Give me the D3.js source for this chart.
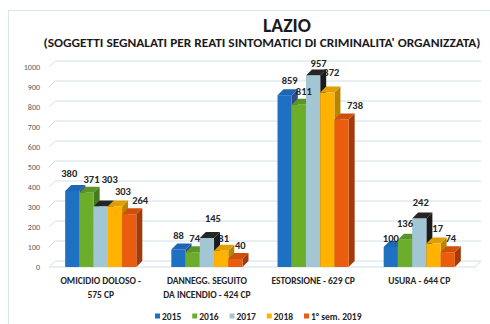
<!DOCTYPE html>
<html>
<head>
<meta charset="utf-8">
<script src="https://cdn.jsdelivr.net/npm/d3@7"></script>
<style>
  html, body { margin: 0; padding: 0; background: #fff; }
  svg { display: block; font-family: Carlito, Lato, "Open Sans", sans-serif; }
</style>
</head>
<body>
<svg id="chart" width="490" height="324"></svg>
<script>
// Categories (crime types), each split into its printed lines
const categories = [
  ["OMICIDIO DOLOSO -", "575 CP"],
  ["DANNEGG. SEGUITO", "DA INCENDIO - 424 CP"],
  ["ESTORSIONE - 629 CP"],
  ["USURA - 644 CP"]
];
const seriesNames = ["2015", "2016", "2017", "2018", "1° sem. 2019"];

// Reported persons per period
const v2015 = [380, 88, 859, 100];
const v2016 = [371, 74, 811, 136];
const v2017 = [303, 145, 957, 242];
const v2018 = [303, 81, 872, 117];
const v2019 = [264, 40, 738, 74];

const yTicks = [0, 100, 200, 300, 400, 500, 600, 700, 800, 900, 1000];

const seriesValues = [v2015, v2016, v2017, v2018, v2019];

// Face colours per series: front, top, side
const faceColors = [
  { front: "#1f6fc2", top: "#1d66b6", side: "#34488a" },
  { front: "#6cae2c", top: "#5a9626", side: "#477a1c" },
  { front: "#a3c6d4", top: "#252525", side: "#1b1b1b" },
  { front: "#ffb300", top: "#e09e00", side: "#b98400" },
  { front: "#ea5c0e", top: "#cf4f0d", side: "#a23a0c" }
];

// Hand placement of the value labels (offset from the bar's front top centre)
const labelDx = [
  [-3, 0, 5, 0],
  [5, 2, 5, 0],
  [9, 6, 5.5, 1.5],
  [8, 2.5, 4, 1.5],
  [11, 5, 13.5, 3]
];
const labelDy = [
  [-14, -10.5, -11, -5.5],
  [-9.5, -10.5, -10, -13],
  [-23.5, -16.5, -9, -12.5],
  [-11, -9, -16.5, -12],
  [-10, -10, -10, -10]
];

const svg = d3.select("#chart");
const depth = 6;

// Chart area frame
svg.append("rect")
  .attr("x", 8.5).attr("y", 10.5)
  .attr("width", 600).attr("height", 400)
  .attr("fill", "none").attr("stroke", "#d5e6ec").attr("stroke-width", 1);

// Title
svg.append("text")
  .attr("x", 287).attr("y", 32)
  .attr("text-anchor", "middle")
  .attr("font-size", 19.5).attr("font-weight", 700).attr("fill", "#1a1a1a")
  .text("LAZIO");
svg.append("text")
  .attr("x", 262).attr("y", 47)
  .attr("text-anchor", "middle")
  .attr("font-size", 11).attr("font-weight", 700).attr("fill", "#1a1a1a")
  .attr("textLength", 437).attr("lengthAdjust", "spacingAndGlyphs")
  .text("(SOGGETTI SEGNALATI PER REATI SINTOMATICI DI CRIMINALITA' ORGANIZZATA)");

// Scales
const x = d3.scaleBand()
  .domain(d3.range(categories.length))
  .range([45, 475])
  .paddingInner(0.33)
  .paddingOuter(0.19);
const xs = d3.scaleBand()
  .domain(d3.range(seriesNames.length))
  .range([0, x.bandwidth()]);
const y = d3.scaleLinear().domain([0, 1000]).range([267, 67]);

const wallLeft = 49, wallRight = 481;

// Gridlines: left-wall diagonal plus back-wall horizontal
const grid = svg.append("g").attr("fill", "none").attr("stroke", "#cfe0e8").attr("stroke-width", 1);
grid.selectAll("path.g")
  .data(yTicks)
  .join("path")
  .attr("class", "g")
  .attr("d", t => `M${wallLeft},${y(t)}L${wallLeft + depth},${y(t) - depth}L${wallRight},${y(t) - depth}`);
// Floor front edge
grid.append("path")
  .attr("d", `M${wallLeft},${y(0)}L${wallRight - depth},${y(0)}L${wallRight},${y(0) - depth}`);

// Y axis labels
const yAxis = d3.axisLeft(y).tickValues(yTicks).tickFormat(d3.format("d")).tickSize(0).tickPadding(0);
const yg = svg.append("g").attr("transform", "translate(40,0)").call(yAxis);
yg.select(".domain").remove();
yg.selectAll("text")
  .attr("font-family", "Carlito, Lato, 'Open Sans', sans-serif")
  .attr("font-size", 8).attr("fill", "#5a5a5a");

// Layers: bars and labels in a fixed paint order so later columns hide earlier sides
const layers = {};
function layer(name) {
  if (!layers[name]) layers[name] = svg.append("g");
  return layers[name];
}
const paintOrder = ["bar0", "bar1", "label0", "label3", "bar2", "label1", "label2", "bar3", "bar4", "label4"];
paintOrder.forEach(layer);

seriesValues.forEach((vals, si) => {
  const g = layers["bar" + si];
  const c = faceColors[si];
  vals.forEach((v, ci) => {
    const x0 = x(ci) + xs(si);
    const w = xs.bandwidth();
    const y1 = y(v), y0 = y(0);
    const bar = g.append("g");
    bar.append("path")
      .attr("d", `M${x0 + w},${y1}L${x0 + w + depth},${y1 - depth}L${x0 + w + depth},${y0 - depth}L${x0 + w},${y0}Z`)
      .attr("fill", c.side);
    bar.append("path")
      .attr("d", `M${x0},${y1}L${x0 + depth},${y1 - depth}L${x0 + w + depth},${y1 - depth}L${x0 + w},${y1}Z`)
      .attr("fill", c.top);
    bar.append("rect")
      .attr("x", x0).attr("y", y1)
      .attr("width", w).attr("height", y0 - y1)
      .attr("fill", c.front);
  });

  const lg = layers["label" + si];
  lg.selectAll("text")
    .data(vals)
    .join("text")
    .attr("x", (v, ci) => x(ci) + xs(si) + xs.bandwidth() / 2 + labelDx[si][ci])
    .attr("y", (v, ci) => y(v) + labelDy[si][ci])
    .attr("text-anchor", "middle")
    .attr("font-size", 10.5).attr("font-weight", 700).attr("fill", "#262626")
    .text(v => v);
});

// Category labels
const cat = svg.append("g");
categories.forEach((lines, ci) => {
  const cx = x(ci) + x.bandwidth() / 2;
  const t = cat.append("text")
    .attr("x", cx)
    .attr("y", 284)
    .attr("text-anchor", "middle")
    .attr("font-size", 9.5).attr("font-weight", 700).attr("fill", "#262626");
  lines.forEach((ln, li) => {
    t.append("tspan")
      .attr("x", cx)
      .attr("dy", li === 0 ? 0 : 14)
      .text(ln);
  });
});

// Legend
const legendX = d3.scalePoint().domain(d3.range(seriesNames.length)).range([155, 304]);
const legend = svg.append("g");
seriesNames.forEach((name, si) => {
  legend.append("rect")
    .attr("x", legendX(si)).attr("y", 313.5)
    .attr("width", 5).attr("height", 5)
    .attr("fill", faceColors[si].front);
  legend.append("text")
    .attr("x", legendX(si) + 7).attr("y", 319.5)
    .attr("font-size", 9.5).attr("font-weight", 700).attr("fill", "#262626")
    .text(name);
});
</script>
</body>
</html>
